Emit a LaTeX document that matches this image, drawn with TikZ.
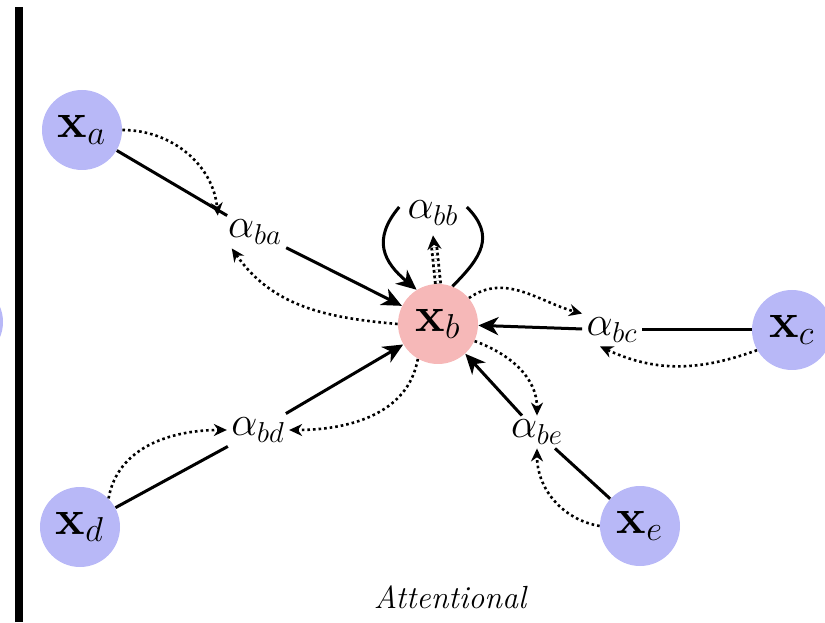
\documentclass[tikz,border=0pt]{standalone}
\usetikzlibrary{arrows.meta}
\definecolor{lav}{RGB}{184,184,247}
\definecolor{pnk}{RGB}{246,184,184}
\begin{document}
\begin{tikzpicture}[x=0.5pt,y=0.5pt,
  vnode/.style={circle,fill=lav,minimum size=40pt,inner sep=0pt,font=\fontsize{27}{30}\selectfont},
  cnode/.style={vnode,fill=pnk},
  alab/.style={inner sep=2pt,font=\fontsize{20}{24}\selectfont},
  solid arr/.style={line width=1.5pt,-{Stealth[length=10pt,width=9pt,inset=3pt]}},
  solid ln/.style={line width=1.5pt},
  dot arr/.style={line width=1.3pt,dash pattern=on 1.3pt off 1.5pt,-{Stealth[length=6.5pt,width=6pt]}}
]
\useasboundingbox (0,0) rectangle (825,622);
\begin{scope}
\clip (0,0) rectangle (825,622);
\fill[lav] (-37,300) circle (40);
\end{scope}
\draw[line width=4pt] (19,0) -- (19,615);

\node[vnode] (xa) at (82,492) {$\mathbf{x}_a$};
\node[cnode] (xb) at (438,298) {$\mathbf{x}_b$};
\node[vnode] (xc) at (792,292) {$\mathbf{x}_c$};
\node[vnode] (xd) at (80,95) {$\mathbf{x}_d$};
\node[vnode] (xe) at (640,96) {$\mathbf{x}_e$};

\node[alab] (aba) at (255,390) {$\alpha_{ba}$};
\node[alab] (abb) at (433,409) {$\alpha_{bb}$};
\node[alab] (abc) at (612,292) {$\alpha_{bc}$};
\node[alab] (abd) at (258,192) {$\alpha_{bd}$};
\node[alab] (abe) at (537,190) {$\alpha_{be}$};

\node[font=\fontsize{16}{19}\selectfont\itshape] (title) at (450,25) {Attentional};

% solid connectors
\draw[solid ln] (xa) -- (aba);
\draw[solid arr] (aba) -- (xb);
\draw[solid ln] (xc) -- (abc);
\draw[solid arr] (abc) -- (xb);
\draw[solid ln] (xd) -- (abd);
\draw[solid arr] (abd) -- (xb);
\draw[solid ln] (xe) -- (abe);
\draw[solid arr] (abe) -- (xb);

% self loop
\draw[solid ln] (xb.69) to[out=45,in=-45,looseness=1.3] ([xshift=2pt,yshift=3pt]abb.east);
\draw[solid arr] ([xshift=-2pt,yshift=3pt]abb.west) to[out=-130,in=140,looseness=1.3] (xb.122);
\draw[line width=1.4pt,double=white,double distance=1.2pt,dash pattern=on 1.4pt off 1.4pt,-{Stealth[length=7pt,width=7pt]}] (xb.north) -- ([yshift=-3pt]abb.south);

% dotted curves
\draw[dot arr] (xa.east) to[out=0,in=95] ([xshift=-3pt]aba.north west);
\draw[dot arr] (xb.west) to[out=175,in=-55] ([xshift=4pt]aba.south west);
\draw[dot arr] (xb.40) to[out=35,in=165] (abc.north west);
\draw[dot arr] (xc.210) to[out=200,in=-25] ([xshift=-6pt]abc.south);
\draw[dot arr] (xb.-25) to[out=-20,in=90] (abe.north);
\draw[dot arr] (xe.west) to[out=170,in=-90] (abe.south);
\draw[dot arr] (xd.north east) to[out=80,in=180] (abd.west);
\draw[dot arr] (xb.240) to[out=-100,in=0] (abd.east);
\end{tikzpicture}
\end{document}
